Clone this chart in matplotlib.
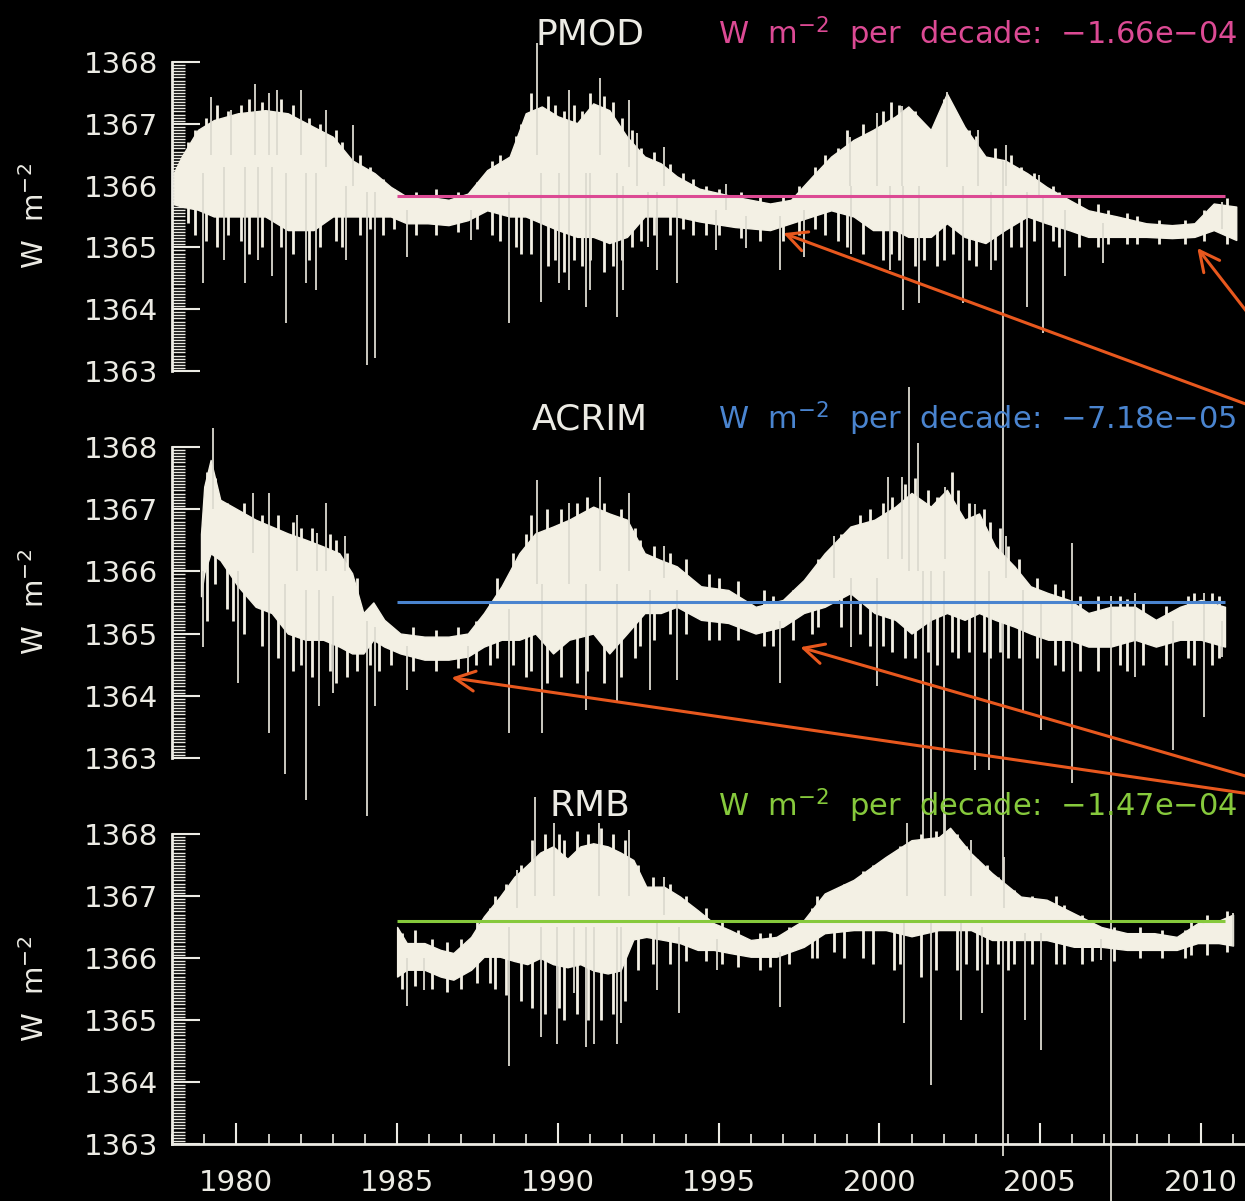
import matplotlib.pyplot as plt
from matplotlib.ticker import MultipleLocator

# ---------------- values ----------------
# dense band of daily TSI (lower / upper edge), W m-2
pmod_t = [1978.05, 1978.3, 1978.8, 1979.3, 1980.05, 1980.9, 1981.6, 1982.4, 1983.0, 1983.6,
          1984.3, 1984.8, 1985.3, 1985.95, 1986.6, 1987.2, 1987.8, 1988.5, 1989.0, 1989.5,
          1990.0, 1990.6, 1991.1, 1991.6, 1992.15, 1992.7, 1993.2, 1993.7, 1994.4, 1995.5,
          1996.6, 1997.25, 1997.9, 1998.5, 1999.2, 1999.8, 2000.5, 2000.9, 2001.6, 2002.1,
          2002.65, 2003.3, 2003.9, 2004.6, 2005.2, 2005.9, 2006.5, 2007.4, 2008.3, 2009.1,
          2009.8, 2010.4, 2011.1]
pmod_lo = [1365.70, 1365.66, 1365.61, 1365.50, 1365.50, 1365.50, 1365.28, 1365.28, 1365.50, 1365.50,
           1365.50, 1365.50, 1365.39, 1365.39, 1365.36, 1365.44, 1365.60, 1365.50, 1365.50, 1365.39,
           1365.28, 1365.17, 1365.17, 1365.07, 1365.17, 1365.50, 1365.50, 1365.50, 1365.42, 1365.33,
           1365.28, 1365.39, 1365.50, 1365.60, 1365.50, 1365.28, 1365.28, 1365.17, 1365.17, 1365.39,
           1365.17, 1365.07, 1365.28, 1365.50, 1365.39, 1365.28, 1365.17, 1365.17, 1365.17, 1365.15,
           1365.17, 1365.28, 1365.12]
pmod_hi = [1366.20, 1366.47, 1366.90, 1367.06, 1367.17, 1367.22, 1367.17, 1366.95, 1366.79, 1366.41,
           1366.20, 1365.98, 1365.82, 1365.82, 1365.77, 1365.87, 1366.25, 1366.47, 1367.17, 1367.28,
           1367.12, 1367.01, 1367.33, 1367.22, 1366.79, 1366.47, 1366.36, 1366.15, 1365.95, 1365.82,
           1365.71, 1365.77, 1366.14, 1366.47, 1366.74, 1366.90, 1367.12, 1367.28, 1366.90, 1367.49,
           1366.95, 1366.47, 1366.41, 1366.20, 1365.98, 1365.77, 1365.60, 1365.50, 1365.39, 1365.36,
           1365.39, 1365.71, 1365.66]
# single-day excursions: (year, low end, high end)
pmod_spikes = [
    (1978.95, 1364.42, 1366.2), (1979.21, 1366.5, 1367.44), (1979.63, 1364.80, 1366.3),
    (1979.84, 1366.5, 1367.22), (1980.26, 1364.42, 1366.3), (1980.58, 1366.5, 1367.65),
    (1980.68, 1364.80, 1366.3), (1981.0, 1366.5, 1367.49), (1981.1, 1364.53, 1366.3),
    (1981.26, 1366.5, 1367.55), (1981.53, 1363.77, 1366.2), (1982.0, 1366.5, 1367.55),
    (1982.16, 1364.42, 1366.2), (1982.47, 1364.31, 1366.2), (1982.79, 1366.3, 1367.22),
    (1983.42, 1364.80, 1366.0), (1983.63, 1366.0, 1366.98), (1984.05, 1363.10, 1365.9),
    (1984.31, 1363.21, 1365.9), (1985.31, 1364.85, 1365.6), (1987.31, 1365.12, 1365.6),
    (1988.47, 1363.77, 1365.9), (1989.36, 1366.5, 1368.30), (1989.46, 1364.12, 1366.2),
    (1990.04, 1364.42, 1366.2), (1990.36, 1364.31, 1367.55), (1990.88, 1364.04, 1366.2),
    (1990.99, 1364.31, 1366.2), (1991.3, 1366.5, 1367.74), (1991.83, 1363.88, 1366.2),
    (1992.04, 1364.31, 1366.0), (1992.2, 1366.3, 1367.39), (1992.46, 1366.0, 1366.85),
    (1992.8, 1365.0, 1365.9), (1993.09, 1364.63, 1365.9), (1993.3, 1366.0, 1366.63),
    (1993.72, 1364.42, 1365.8), (1994.92, 1364.96, 1365.6), (1995.24, 1365.6, 1366.03),
    (1995.84, 1364.99, 1365.5), (1996.92, 1364.63, 1365.5), (1997.67, 1364.85, 1365.6),
    (1999.08, 1366.0, 1366.79), (1999.13, 1364.90, 1366.0), (1999.94, 1366.0, 1367.17),
    (2000.32, 1364.63, 1366.0), (2000.7, 1366.0, 1367.28), (2000.75, 1363.99, 1366.0),
    (2001.24, 1364.10, 1366.0), (2002.11, 1366.3, 1367.52), (2002.59, 1364.10, 1366.0),
    (2003.08, 1366.0, 1366.90), (2003.46, 1364.63, 1365.9), (2003.84, 1350.3, 1366.4),
    (2003.94, 1366.0, 1366.66), (2004.59, 1364.04, 1365.9), (2004.97, 1365.8, 1366.17),
    (2005.08, 1363.61, 1365.8), (2005.78, 1364.53, 1365.6), (2006.97, 1364.74, 1365.4),
    (2010.65, 1365.3, 1365.74),
]
# day-to-day scatter around the band edges: (year, low, high)
pmod_scatter = [
    (1978.5, 1365.4, 1366.7), (1978.7, 1365.2, 1366.9), (1979.05, 1365.1, 1367.1),
    (1979.4, 1365.0, 1367.3), (1979.75, 1365.2, 1367.2), (1980.15, 1365.1, 1367.3),
    (1980.4, 1364.9, 1367.4), (1980.8, 1365.0, 1367.35), (1981.4, 1365.0, 1367.4),
    (1981.75, 1364.9, 1367.3), (1982.25, 1364.8, 1367.1), (1982.6, 1365.0, 1367.0),
    (1983.1, 1365.1, 1366.9), (1983.3, 1365.0, 1366.7), (1983.85, 1365.2, 1366.5),
    (1984.15, 1365.3, 1366.3), (1984.55, 1365.2, 1366.1), (1984.9, 1365.3, 1365.95),
    (1985.6, 1365.2, 1365.9), (1986.2, 1365.2, 1365.95), (1986.9, 1365.25, 1365.9),
    (1987.5, 1365.3, 1366.05), (1987.95, 1365.2, 1366.4), (1988.2, 1365.1, 1366.5),
    (1988.7, 1365.0, 1366.8), (1988.85, 1364.9, 1367.0), (1989.15, 1364.9, 1367.5),
    (1989.7, 1364.7, 1367.45), (1989.9, 1364.8, 1367.3), (1990.2, 1364.6, 1367.2),
    (1990.5, 1364.8, 1367.3), (1990.75, 1364.7, 1367.2), (1991.0, 1364.8, 1367.5),
    (1991.45, 1364.6, 1367.45), (1991.7, 1364.7, 1367.35), (1992.0, 1364.8, 1367.1),
    (1992.3, 1365.0, 1366.9), (1992.6, 1365.1, 1366.6), (1993.0, 1365.2, 1366.55),
    (1993.5, 1365.2, 1366.35), (1993.9, 1365.3, 1366.2), (1994.2, 1365.2, 1366.1),
    (1994.6, 1365.2, 1366.0), (1995.0, 1365.2, 1365.95), (1995.7, 1365.15, 1365.9),
    (1996.3, 1365.1, 1365.85), (1997.0, 1365.1, 1365.85), (1997.5, 1365.2, 1366.0),
    (1998.0, 1365.3, 1366.3), (1998.3, 1365.2, 1366.5), (1998.7, 1365.1, 1366.6),
    (1999.0, 1365.0, 1366.9), (1999.5, 1364.9, 1367.0), (2000.1, 1364.8, 1367.2),
    (2000.35, 1364.9, 1367.35), (2000.6, 1364.8, 1367.3), (2001.1, 1364.7, 1367.2),
    (2001.4, 1364.8, 1367.0), (2001.8, 1364.7, 1367.1), (2002.0, 1364.8, 1367.4),
    (2002.3, 1364.9, 1367.2), (2002.8, 1364.8, 1366.9), (2003.0, 1364.7, 1366.8),
    (2003.6, 1364.8, 1366.6), (2004.1, 1365.0, 1366.5), (2004.4, 1365.0, 1366.3),
    (2004.8, 1365.1, 1366.2), (2005.4, 1365.1, 1366.0), (2005.6, 1365.0, 1365.9),
    (2006.2, 1365.0, 1365.8), (2006.8, 1365.0, 1365.7), (2007.1, 1365.05, 1365.6),
    (2007.7, 1365.05, 1365.55), (2008.0, 1365.05, 1365.5), (2008.7, 1365.05, 1365.45),
    (2009.5, 1365.05, 1365.45), (2010.1, 1365.1, 1365.6), (2010.8, 1365.05, 1365.8),
]

acrim_t = [1978.9, 1979.0, 1979.2, 1979.5, 1980.05, 1980.6, 1981.1, 1981.6, 1982.15, 1982.7,
           1983.2, 1983.6, 1983.95, 1984.26, 1984.6, 1985.1, 1985.85, 1986.6, 1987.2, 1987.7,
           1988.25, 1988.8, 1989.3, 1989.85, 1990.35, 1991.1, 1991.6, 1992.15, 1992.7, 1993.2,
           1993.7, 1994.45, 1995.3, 1996.15, 1997.0, 1997.65, 1998.3, 1999.1, 1999.85, 2000.5,
           2001.0, 2001.6, 2002.1, 2002.65, 2003.1, 2003.6, 2004.2, 2004.7, 2005.25, 2005.9,
           2006.5, 2007.2, 2007.95, 2008.6, 2009.35, 2010.0, 2010.75]
acrim_lo = [1365.60, 1365.97, 1366.29, 1366.18, 1365.76, 1365.43, 1365.33, 1365.00, 1364.90, 1364.90,
            1364.79, 1364.68, 1364.68, 1364.90, 1364.79, 1364.68, 1364.58, 1364.58, 1364.63, 1364.79,
            1364.90, 1364.90, 1365.00, 1364.68, 1364.90, 1365.00, 1364.68, 1365.00, 1365.33, 1365.33,
            1365.43, 1365.22, 1365.17, 1365.00, 1365.11, 1365.33, 1365.43, 1365.65, 1365.33, 1365.22,
            1365.00, 1365.22, 1365.33, 1365.22, 1365.33, 1365.22, 1365.11, 1365.00, 1364.90, 1364.90,
            1364.79, 1364.79, 1364.90, 1364.79, 1364.90, 1364.90, 1364.79]
acrim_hi = [1366.60, 1367.36, 1367.79, 1367.15, 1366.99, 1366.83, 1366.72, 1366.61, 1366.51, 1366.40,
            1366.29, 1365.97, 1365.33, 1365.50, 1365.22, 1365.00, 1364.95, 1364.95, 1365.00, 1365.33,
            1365.76, 1366.29, 1366.61, 1366.72, 1366.83, 1367.04, 1366.93, 1366.83, 1366.29, 1366.18,
            1366.08, 1365.76, 1365.70, 1365.43, 1365.54, 1365.86, 1366.29, 1366.72, 1366.83, 1367.04,
            1367.26, 1367.04, 1367.31, 1366.83, 1366.93, 1366.40, 1366.08, 1365.76, 1365.65, 1365.54,
            1365.33, 1365.43, 1365.43, 1365.22, 1365.43, 1365.54, 1365.43]
acrim_spikes = [
    (1978.95, 1364.79, 1366.0), (1979.26, 1367.0, 1368.30), (1980.05, 1364.20, 1366.0),
    (1980.53, 1366.3, 1367.26), (1981.0, 1363.40, 1367.26), (1981.52, 1362.75, 1365.8),
    (1981.89, 1366.0, 1366.91), (1982.16, 1362.33, 1365.7), (1982.52, 1366.0, 1366.61),
    (1982.58, 1363.83, 1365.7), (1982.79, 1366.0, 1367.10), (1983.0, 1364.04, 1365.6),
    (1983.37, 1366.0, 1366.56), (1984.05, 1362.06, 1365.2), (1984.31, 1363.83, 1365.1),
    (1985.31, 1364.09, 1364.8), (1987.2, 1364.36, 1364.8), (1988.47, 1363.40, 1365.4),
    (1989.36, 1365.8, 1367.47), (1989.52, 1363.40, 1365.8), (1990.36, 1365.8, 1367.10),
    (1990.88, 1363.77, 1365.8), (1991.3, 1366.0, 1367.52), (1991.83, 1363.88, 1365.8),
    (1992.2, 1366.0, 1367.26), (1992.88, 1364.09, 1365.7), (1993.3, 1365.9, 1366.40),
    (1993.72, 1364.26, 1365.7), (1996.92, 1364.20, 1365.2), (1998.59, 1365.9, 1366.56),
    (1999.13, 1364.79, 1365.9), (1999.94, 1364.15, 1365.9), (2000.27, 1366.2, 1367.52),
    (2000.7, 1366.2, 1367.52), (2000.92, 1366.0, 1368.97), (2001.19, 1366.0, 1368.06),
    (2001.35, 1361.50, 1366.0), (2001.62, 1361.04, 1366.0), (2002.0, 1361.36, 1366.0),
    (2002.05, 1366.2, 1367.36), (2002.97, 1362.81, 1367.09), (2003.4, 1362.81, 1366.0),
    (2003.94, 1365.9, 1366.56), (2004.48, 1363.72, 1365.7), (2005.02, 1363.45, 1365.5),
    (2006.0, 1362.59, 1366.45), (2007.19, 1355.0, 1365.6), (2007.94, 1364.3, 1365.65),
    (2009.13, 1363.13, 1365.2), (2010.11, 1363.66, 1365.65), (2010.65, 1364.63, 1365.2),
]
acrim_scatter = [
    (1979.1, 1365.2, 1367.6), (1979.35, 1365.8, 1367.5), (1979.7, 1365.4, 1367.1),
    (1979.9, 1365.2, 1367.0), (1980.25, 1365.0, 1367.1), (1980.8, 1364.8, 1366.9),
    (1981.3, 1364.6, 1366.9), (1981.75, 1364.4, 1366.8), (1982.0, 1364.5, 1366.7),
    (1982.35, 1364.3, 1366.7), (1982.9, 1364.4, 1366.6), (1983.1, 1364.2, 1366.5),
    (1983.45, 1364.3, 1366.3), (1983.75, 1364.4, 1365.9), (1984.15, 1364.5, 1365.3),
    (1984.45, 1364.4, 1365.3), (1984.8, 1364.5, 1365.1), (1985.5, 1364.4, 1365.1),
    (1986.2, 1364.4, 1365.05), (1986.9, 1364.45, 1365.1), (1987.45, 1364.5, 1365.2),
    (1987.9, 1364.5, 1365.5), (1988.1, 1364.6, 1365.9), (1988.6, 1364.5, 1366.3),
    (1989.0, 1364.3, 1366.6), (1989.15, 1364.4, 1366.9), (1989.65, 1364.2, 1367.0),
    (1990.1, 1364.3, 1367.0), (1990.6, 1364.2, 1367.1), (1990.9, 1364.4, 1367.2),
    (1991.45, 1364.2, 1367.1), (1991.95, 1364.3, 1367.0), (1992.4, 1364.6, 1366.7),
    (1992.55, 1364.8, 1366.5), (1993.0, 1364.9, 1366.4), (1993.5, 1365.0, 1366.3),
    (1994.0, 1365.0, 1366.2), (1994.7, 1364.9, 1365.95), (1995.0, 1364.9, 1365.9),
    (1995.6, 1364.9, 1365.85), (1996.4, 1364.8, 1365.7), (1996.7, 1364.8, 1365.6),
    (1997.3, 1364.9, 1365.7), (1997.9, 1365.0, 1366.0), (1998.1, 1365.1, 1366.2),
    (1998.8, 1365.1, 1366.6), (1999.4, 1365.0, 1366.9), (1999.7, 1364.8, 1367.0),
    (2000.1, 1364.8, 1367.1), (2000.4, 1364.7, 1367.2), (2000.8, 1364.6, 1367.4),
    (2001.1, 1364.6, 1367.5), (2001.5, 1364.7, 1367.3), (2001.8, 1364.5, 1367.2),
    (2002.25, 1364.7, 1367.6), (2002.45, 1364.6, 1367.3), (2002.8, 1364.7, 1367.1),
    (2003.25, 1364.7, 1367.0), (2003.45, 1364.6, 1366.8), (2003.75, 1364.7, 1366.7),
    (2004.0, 1364.6, 1366.4), (2004.35, 1364.6, 1366.2), (2004.9, 1364.6, 1365.9),
    (2005.45, 1364.5, 1365.8), (2005.7, 1364.4, 1365.7), (2006.25, 1364.4, 1365.6),
    (2006.8, 1364.4, 1365.6), (2007.5, 1364.5, 1365.6), (2007.7, 1364.4, 1365.55),
    (2008.2, 1364.5, 1365.5), (2008.9, 1364.5, 1365.45), (2009.6, 1364.6, 1365.6),
    (2009.8, 1364.5, 1365.65), (2010.35, 1364.5, 1365.65), (2010.55, 1364.6, 1365.6),
]

rmb_t = [1985.0, 1985.3, 1985.85, 1986.35, 1986.75, 1987.3, 1987.7, 1988.2, 1988.65, 1989.05,
         1989.45, 1989.85, 1990.3, 1990.7, 1991.1, 1991.55, 1991.95, 1992.35, 1992.75, 1993.3,
         1993.8, 1994.35, 1994.85, 1995.35, 1996.0, 1996.8, 1997.65, 1998.3, 1999.2, 2000.2,
         2001.0, 2001.85, 2002.2, 2002.85, 2003.5, 2004.4, 2005.2, 2006.05, 2006.9, 2007.7,
         2008.55, 2009.25, 2009.9, 2010.55, 2011.0]
rmb_lo = [1365.70, 1365.81, 1365.81, 1365.70, 1365.65, 1365.81, 1366.02, 1366.02, 1365.95, 1365.90,
          1366.00, 1365.90, 1365.85, 1365.90, 1365.80, 1365.75, 1365.80, 1366.30, 1366.34, 1366.29,
          1366.24, 1366.13, 1366.13, 1366.08, 1366.02, 1366.02, 1366.18, 1366.40, 1366.45, 1366.45,
          1366.35, 1366.45, 1366.45, 1366.45, 1366.29, 1366.29, 1366.29, 1366.18, 1366.18, 1366.13,
          1366.13, 1366.13, 1366.24, 1366.24, 1366.20]
rmb_hi = [1366.50, 1366.24, 1366.24, 1366.13, 1366.08, 1366.34, 1366.67, 1366.99, 1367.31, 1367.50,
          1367.70, 1367.80, 1367.60, 1367.80, 1367.85, 1367.80, 1367.70, 1367.58, 1367.15, 1367.15,
          1366.99, 1366.77, 1366.56, 1366.45, 1366.29, 1366.34, 1366.61, 1367.04, 1367.26, 1367.63,
          1367.90, 1367.95, 1368.10, 1367.69, 1367.37, 1366.99, 1366.94, 1366.72, 1366.50, 1366.40,
          1366.40, 1366.34, 1366.56, 1366.60, 1366.70]
rmb_spikes = [
    (1985.31, 1365.22, 1366.0), (1985.83, 1365.48, 1366.0), (1988.47, 1364.25, 1366.5),
    (1988.73, 1366.8, 1367.42), (1989.3, 1367.0, 1368.60), (1989.46, 1364.73, 1366.5),
    (1989.87, 1367.0, 1368.17), (1989.98, 1364.62, 1366.5), (1990.49, 1365.43, 1366.5),
    (1990.86, 1364.57, 1366.5), (1991.12, 1364.62, 1366.5), (1991.27, 1367.0, 1368.17),
    (1991.84, 1364.62, 1366.5), (1991.95, 1364.95, 1366.5), (1992.2, 1367.0, 1368.06),
    (1993.09, 1365.48, 1366.6), (1993.29, 1366.7, 1367.31), (1993.76, 1365.11, 1366.5),
    (1994.95, 1365.81, 1366.3), (1996.92, 1365.21, 1366.1), (2000.77, 1364.95, 1366.6),
    (2000.85, 1367.0, 1368.17), (2001.61, 1363.95, 1366.6), (2002.03, 1367.0, 1368.33),
    (2002.53, 1365.0, 1366.6), (2002.86, 1367.0, 1367.90), (2003.2, 1365.11, 1366.5),
    (2003.87, 1366.8, 1367.63), (2004.54, 1365.0, 1366.4), (2005.04, 1364.52, 1366.4),
    (2006.89, 1365.97, 1366.3), (2011.0, 1366.2, 1366.72),
]
rmb_scatter = [
    (1985.15, 1365.5, 1366.4), (1985.55, 1365.55, 1366.45), (1986.1, 1365.5, 1366.3),
    (1986.55, 1365.45, 1366.25), (1987.0, 1365.5, 1366.3), (1987.5, 1365.6, 1366.6),
    (1987.9, 1365.6, 1366.8), (1988.05, 1365.5, 1367.0), (1988.4, 1365.4, 1367.2),
    (1988.85, 1365.3, 1367.5), (1989.2, 1365.2, 1367.9), (1989.6, 1365.1, 1368.0),
    (1990.05, 1365.2, 1368.0), (1990.2, 1365.0, 1367.9), (1990.6, 1365.1, 1368.05),
    (1990.95, 1365.0, 1368.0), (1991.35, 1365.0, 1368.1), (1991.7, 1365.1, 1368.0),
    (1992.1, 1365.3, 1367.9), (1992.5, 1365.8, 1367.5), (1992.95, 1365.9, 1367.3),
    (1993.5, 1365.9, 1367.2), (1994.0, 1365.95, 1367.0), (1994.6, 1365.95, 1366.8),
    (1995.1, 1365.9, 1366.6), (1995.6, 1365.85, 1366.45), (1996.3, 1365.8, 1366.4),
    (1996.6, 1365.85, 1366.4), (1997.2, 1365.9, 1366.5), (1997.9, 1366.0, 1366.8),
    (1998.05, 1366.0, 1367.0), (1998.6, 1366.1, 1367.1), (1998.9, 1366.0, 1367.2),
    (1999.5, 1366.0, 1367.4), (1999.8, 1365.9, 1367.5), (2000.45, 1365.8, 1367.7),
    (2000.65, 1365.9, 1367.8), (2001.3, 1365.7, 1368.0), (2001.75, 1365.8, 1368.05),
    (2002.4, 1365.8, 1368.0), (2002.7, 1365.9, 1367.8), (2003.05, 1365.8, 1367.6),
    (2003.35, 1365.9, 1367.5), (2003.7, 1365.9, 1367.3), (2004.0, 1365.8, 1367.1),
    (2004.2, 1365.9, 1367.1), (2004.75, 1365.9, 1367.0), (2005.5, 1365.9, 1367.0),
    (2005.75, 1365.9, 1366.85), (2006.3, 1365.9, 1366.7), (2006.6, 1365.95, 1366.6),
    (2007.3, 1365.95, 1366.5), (2008.1, 1366.0, 1366.5), (2008.8, 1366.0, 1366.45),
    (2009.5, 1366.0, 1366.45), (2009.7, 1366.05, 1366.6), (2010.2, 1366.05, 1366.7),
    (2010.8, 1366.1, 1366.75),
]

names = ['PMOD', 'ACRIM', 'RMB']
trend_level = [1365.83, 1365.51, 1366.60]      # flat fitted lines
trend_text = ['\u22121.66e\u221204', '\u22127.18e\u221205', '\u22121.47e\u221204']
trend_span = (1985.0, 2010.75)
trend_colors = ['#dc4a94', '#4a84cf', '#86c93c']

# arrow heads (year, W m-2) per panel and where the tails leave the right edge
arrow_heads = [[(2009.89, 1364.99), (1997.01, 1365.23)],
               [(1997.54, 1364.78), (1986.69, 1364.29)],
               []]
arrow_tails = [[0.729, 0.660], [0.351, 0.338], []]

# ---------------- plotting ----------------
fg = '#ecebe4'
trace = '#f3f0e4'
spike_col = '#dcdad0'
orange = '#e8581e'

fig = plt.figure(figsize=(12.45, 12.01), dpi=100, facecolor='black')

left, width = 0.1382, 0.878
boxes = [(0.6911, 0.2573), (0.3689, 0.2590), (0.0475, 0.2581)]

series = [(pmod_t, pmod_lo, pmod_hi, pmod_spikes, pmod_scatter),
          (acrim_t, acrim_lo, acrim_hi, acrim_spikes, acrim_scatter),
          (rmb_t, rmb_lo, rmb_hi, rmb_spikes, rmb_scatter)]

for i, (t, lo, hi, spikes, scatter) in enumerate(series):
    bottom, height = boxes[i]
    ax = fig.add_axes([left, bottom, width, height])
    ax.set_facecolor('none')
    ax.set_xlim(1978, 2012)
    ax.set_ylim(1363, 1368)

    ax.fill_between(t, lo, hi, color=trace, lw=1.0, clip_on=False, zorder=2)
    cx, cb, ct = zip(*scatter)
    ax.vlines(cx, cb, ct, color=trace, lw=2.0, clip_on=False, zorder=2)
    sx, sb, st = zip(*spikes)
    ax.vlines(sx, sb, st, color=spike_col, lw=1.3, clip_on=False, zorder=2)
    ax.hlines(trend_level[i], *trend_span, color=trend_colors[i], lw=2.2, zorder=3)

    for s in ['top', 'right']:
        ax.spines[s].set_visible(False)
    ax.spines['left'].set_color(fg)
    ax.spines['left'].set_linewidth(2)

    ax.yaxis.set_major_locator(MultipleLocator(1))
    ax.yaxis.set_minor_locator(MultipleLocator(0.05))
    ax.yaxis.set_major_formatter('{x:.0f}')
    ax.tick_params(axis='y', which='major', direction='in', length=20, width=1.5,
                   colors=fg, labelsize=21, pad=10)
    ax.tick_params(axis='y', which='minor', direction='in', length=9, width=1, colors=fg)

    if i < 2:
        ax.spines['bottom'].set_visible(False)
        ax.tick_params(axis='x', which='both', bottom=False, labelbottom=False)
    else:
        ax.spines['bottom'].set_color(fg)
        ax.spines['bottom'].set_linewidth(2)
        ax.xaxis.set_major_locator(MultipleLocator(5))
        ax.xaxis.set_minor_locator(MultipleLocator(1))
        ax.tick_params(axis='x', which='major', direction='in', length=15, width=1.5,
                       colors=fg, labelsize=21, pad=18)
        ax.tick_params(axis='x', which='minor', direction='in', length=7, width=1.2, colors=fg)

    ax.set_ylabel('W  m$^{-2}$', fontsize=21, color=fg)
    ax.yaxis.set_label_coords(-0.112, 0.5)

    ax.text(0.3824, 1.057, names[i], transform=ax.transAxes, ha='center',
            va='baseline', fontsize=26, color=fg)
    ax.text(0.4995, 1.057, 'W  m$^{-2}$  per  decade:  ' + trend_text[i],
            transform=ax.transAxes, ha='left', va='baseline', fontsize=22,
            color=trend_colors[i])

    for (hx, hy), ty in zip(arrow_heads[i], arrow_tails[i]):
        ax.annotate('', xy=(hx, hy), xycoords='data',
                    xytext=(1.01, ty), textcoords='figure fraction',
                    annotation_clip=False,
                    arrowprops=dict(arrowstyle='->,head_length=0.9,head_width=0.45',
                                    color=orange, lw=2.2, mutation_scale=16,
                                    shrinkA=0, shrinkB=0),
                    zorder=5)

fig.savefig('out.png', dpi=100, facecolor='black')
